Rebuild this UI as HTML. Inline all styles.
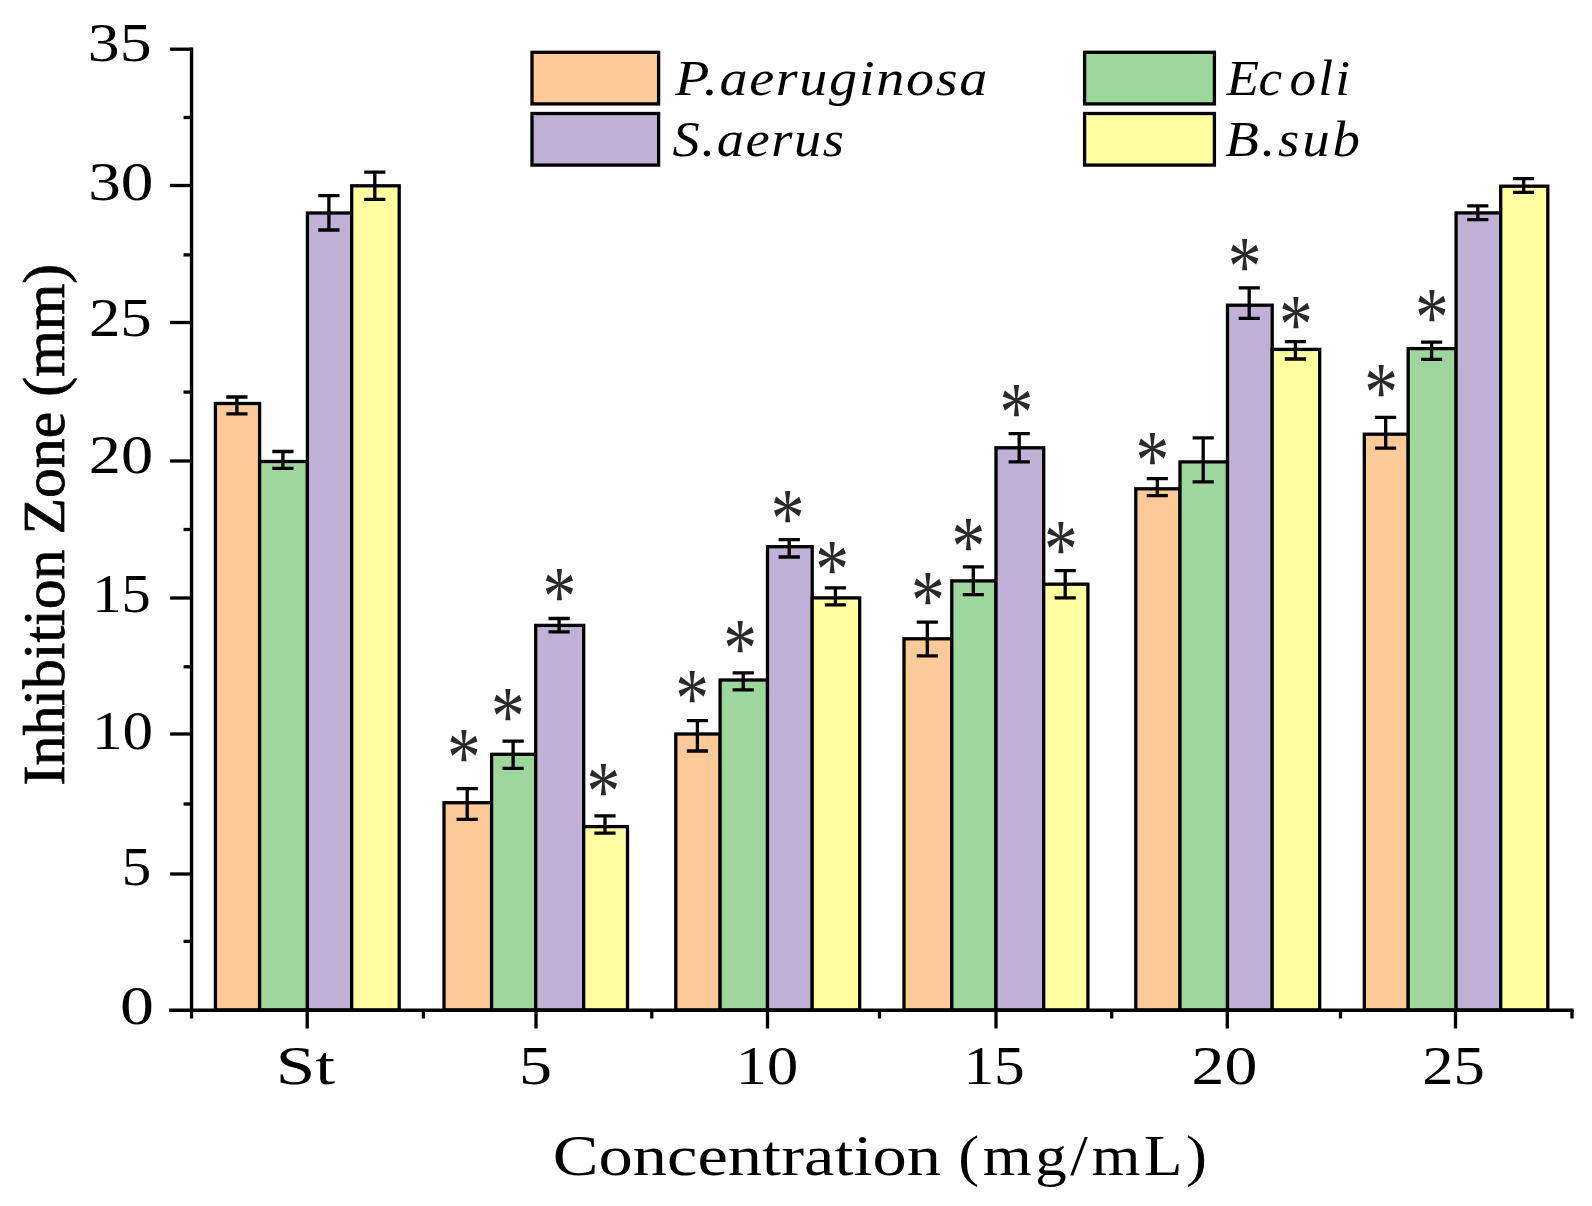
<!DOCTYPE html>
<html lang="en"><head><meta charset="utf-8"><title>Inhibition Zone vs Concentration</title>
<style>html,body{margin:0;padding:0;background:#fff}svg{display:block}text{font-family:"Liberation Serif",serif}</style>
</head><body>
<svg width="1592" height="1206" viewBox="0 0 1592 1206">
<rect width="1592" height="1206" fill="#fff"/>
<g stroke="#000" stroke-width="3.3" stroke-linejoin="miter">
<rect x="215.4" y="403.5" width="44.2" height="606.5" fill="#FCCA98"/>
<rect x="259.6" y="461.5" width="47.8" height="548.5" fill="#9ED79D"/>
<rect x="307.4" y="213.0" width="44.3" height="797.0" fill="#C2B1D7"/>
<rect x="351.7" y="185.8" width="47.5" height="824.2" fill="#FFFDA0"/>
<rect x="444.0" y="802.7" width="47.6" height="207.3" fill="#FCCA98"/>
<rect x="491.6" y="754.3" width="44.1" height="255.7" fill="#9ED79D"/>
<rect x="535.7" y="625.4" width="48.0" height="384.6" fill="#C2B1D7"/>
<rect x="583.7" y="826.6" width="43.8" height="183.4" fill="#FFFDA0"/>
<rect x="675.8" y="734.0" width="44.3" height="276.0" fill="#FCCA98"/>
<rect x="720.1" y="680.0" width="47.4" height="330.0" fill="#9ED79D"/>
<rect x="767.5" y="546.7" width="44.7" height="463.3" fill="#C2B1D7"/>
<rect x="812.2" y="597.9" width="47.5" height="412.1" fill="#FFFDA0"/>
<rect x="904.0" y="638.8" width="47.8" height="371.2" fill="#FCCA98"/>
<rect x="951.8" y="580.9" width="44.2" height="429.1" fill="#9ED79D"/>
<rect x="996.0" y="447.8" width="47.7" height="562.2" fill="#C2B1D7"/>
<rect x="1043.7" y="584.2" width="44.2" height="425.8" fill="#FFFDA0"/>
<rect x="1135.8" y="488.8" width="44.2" height="521.2" fill="#FCCA98"/>
<rect x="1180.0" y="461.9" width="47.5" height="548.1" fill="#9ED79D"/>
<rect x="1227.5" y="305.2" width="44.7" height="704.8" fill="#C2B1D7"/>
<rect x="1272.2" y="349.4" width="47.5" height="660.6" fill="#FFFDA0"/>
<rect x="1364.3" y="434.2" width="43.9" height="575.8" fill="#FCCA98"/>
<rect x="1408.2" y="348.6" width="47.9" height="661.4" fill="#9ED79D"/>
<rect x="1456.1" y="212.9" width="44.6" height="797.1" fill="#C2B1D7"/>
<rect x="1500.7" y="186.2" width="47.1" height="823.8" fill="#FFFDA0"/>
</g>
<g stroke="#000" stroke-width="3.3" fill="none">
<path d="M236.9 397.0V413.9M226.3 397.0H247.5M226.3 413.9H247.5"/>
<path d="M282.9 451.5V468.4M272.3 451.5H293.5M272.3 468.4H293.5"/>
<path d="M328.9 195.7V230.0M318.3 195.7H339.5M318.3 230.0H339.5"/>
<path d="M374.8 172.2V199.3M364.2 172.2H385.4M364.2 199.3H385.4"/>
<path d="M467.2 788.7V819.3M456.6 788.7H477.8M456.6 819.3H477.8"/>
<path d="M513.1 741.2V768.4M502.5 741.2H523.7M502.5 768.4H523.7"/>
<path d="M559.1 618.5V631.9M548.5 618.5H569.7M548.5 631.9H569.7"/>
<path d="M605.0 815.8V833.1M594.4 815.8H615.6M594.4 833.1H615.6"/>
<path d="M697.4 720.6V751.0M686.8 720.6H708.0M686.8 751.0H708.0"/>
<path d="M743.2 672.8V689.9M732.6 672.8H753.8M732.6 689.9H753.8"/>
<path d="M789.2 539.7V557.0M778.6 539.7H799.9M778.6 557.0H799.9"/>
<path d="M835.4 587.8V604.8M824.8 587.8H846.0M824.8 604.8H846.0"/>
<path d="M927.3 622.1V655.8M916.7 622.1H937.9M916.7 655.8H937.9"/>
<path d="M973.3 566.9V594.6M962.7 566.9H983.9M962.7 594.6H983.9"/>
<path d="M1019.2 433.7V461.8M1008.6 433.7H1029.8M1008.6 461.8H1029.8"/>
<path d="M1065.2 570.7V597.9M1054.6 570.7H1075.8M1054.6 597.9H1075.8"/>
<path d="M1157.3 478.7V495.7M1146.7 478.7H1167.9M1146.7 495.7H1167.9"/>
<path d="M1203.2 437.8V481.9M1192.6 437.8H1213.8M1192.6 481.9H1213.8"/>
<path d="M1249.2 287.9V318.4M1238.7 287.9H1259.8M1238.7 318.4H1259.8"/>
<path d="M1295.4 341.6V359.0M1284.8 341.6H1306.0M1284.8 359.0H1306.0"/>
<path d="M1385.7 417.4V448.2M1375.1 417.4H1396.2M1375.1 448.2H1396.2"/>
<path d="M1431.6 342.2V359.4M1421.0 342.2H1442.2M1421.0 359.4H1442.2"/>
<path d="M1477.8 205.8V219.6M1467.2 205.8H1488.4M1467.2 219.6H1488.4"/>
<path d="M1523.7 178.6V192.4M1513.1 178.6H1534.2M1513.1 192.4H1534.2"/>
</g>
<g stroke="#000" stroke-width="3.4" fill="none">
<path d="M191.55 47.5V1012.0"/>
<path d="M169.15 1010.3H1573.6"/>
</g>
<g stroke="#000" stroke-width="3.3" fill="none">
<path d="M170.05 49.2H191.55"/>
<path d="M170.05 185.5H191.55"/>
<path d="M170.05 322.5H191.55"/>
<path d="M170.05 461H191.55"/>
<path d="M170.05 598H191.55"/>
<path d="M170.05 734H191.55"/>
<path d="M170.05 874H191.55"/>
<path d="M183.55 117.5H191.55"/>
<path d="M183.55 254.9H191.55"/>
<path d="M183.55 392.1H191.55"/>
<path d="M183.55 529.5H191.55"/>
<path d="M183.55 666.8H191.55"/>
<path d="M183.55 804.0H191.55"/>
<path d="M183.55 941.4H191.55"/>
<path d="M307.2 1010.0V1028.5"/>
<path d="M536.0 1010.0V1028.5"/>
<path d="M767.5 1010.0V1028.5"/>
<path d="M996.0 1010.0V1028.5"/>
<path d="M1227.3 1010.0V1028.5"/>
<path d="M1455.5 1010.0V1028.5"/>
<path d="M191.55 1010.0V1018.5"/>
<path d="M423.4 1010.0V1018.5"/>
<path d="M651.8 1010.0V1018.5"/>
<path d="M879.5 1010.0V1018.5"/>
<path d="M1111.7 1010.0V1018.5"/>
<path d="M1340.5 1010.0V1018.5"/>
<path d="M1572 1010.0V1018.5"/>
</g>
<g stroke="#000" stroke-width="3.3">
<rect x="532" y="52.3" width="126.6" height="51.6" fill="#FCCA98"/>
<rect x="532" y="113.5" width="126.6" height="51.6" fill="#C2B1D7"/>
<rect x="1084.6" y="52.3" width="129.8" height="51.6" fill="#9ED79D"/>
<rect x="1084.6" y="113.5" width="129.8" height="51.6" fill="#FFFDA0"/>
</g>
<g font-family="'Liberation Serif', serif" fill="#000">
<text transform="translate(87.83 60.50) scale(1.1580 1)" font-size="55">35</text>
<text transform="translate(88.14 200.20) scale(1.1860 1)" font-size="55">30</text>
<text transform="translate(88.91 336.20) scale(1.1431 1)" font-size="55">25</text>
<text transform="translate(88.86 472.50) scale(1.1686 1)" font-size="55">20</text>
<text transform="translate(92.19 611.80) scale(1.0625 1)" font-size="55">15</text>
<text transform="translate(91.95 748.80) scale(1.1104 1)" font-size="55">10</text>
<text transform="translate(121.68 885.20) scale(1.0727 1)" font-size="55">5</text>
<text transform="translate(119.93 1023.80) scale(1.2348 1)" font-size="55">0</text>
<text transform="translate(275.83 1083.60) scale(1.2927 1)" font-size="55">St</text>
<text transform="translate(518.90 1083.60) scale(1.2000 1)" font-size="55">5</text>
<text transform="translate(735.82 1083.60) scale(1.1354 1)" font-size="55">10</text>
<text transform="translate(963.42 1083.60) scale(1.1167 1)" font-size="55">15</text>
<text transform="translate(1191.61 1083.60) scale(1.1961 1)" font-size="55">20</text>
<text transform="translate(1422.22 1083.60) scale(1.1392 1)" font-size="55">25</text>
<text transform="translate(552.85 1175.30) scale(1.2236 1)" font-size="56">Concentration</text>
<text transform="translate(958.13 1175.30) scale(1.1241 1)" font-size="56" letter-spacing="3.2">(mg/mL)</text>
<text transform="translate(675.00 95.20) scale(1.1232 1)" font-size="50" font-style="italic" letter-spacing="1.5">P.aeruginosa</text>
<text transform="translate(672.61 156.00) scale(1.0877 1)" font-size="50" font-style="italic" letter-spacing="1.5">S.aerus</text>
<text transform="translate(1226.40 95.20) scale(1.0661 1)" font-size="50" font-style="italic" letter-spacing="2">E<tspan dx="-2.5">c</tspan><tspan dx="5">o</tspan>li</text>
<text transform="translate(1225.30 156.00) scale(1.0992 1)" font-size="50" font-style="italic" letter-spacing="2.5">B.sub</text>
<text transform="translate(64.2 785.44) rotate(-90) scale(1.0680 1.0700)" font-size="56" stroke="#000" stroke-width="0.7">Inhibition Zone (mm)</text>
<text transform="translate(447.02 785.66) scale(0.8438 1.0690)" font-size="80" fill="#2a2a2a">*</text>
<text transform="translate(491.12 744.76) scale(0.8438 1.0690)" font-size="80" fill="#2a2a2a">*</text>
<text transform="translate(542.52 625.36) scale(0.8438 1.0690)" font-size="80" fill="#2a2a2a">*</text>
<text transform="translate(586.42 819.96) scale(0.8438 1.0690)" font-size="80" fill="#2a2a2a">*</text>
<text transform="translate(675.23 727.46) scale(0.8438 1.0690)" font-size="80" fill="#2a2a2a">*</text>
<text transform="translate(723.23 676.66) scale(0.8438 1.0690)" font-size="80" fill="#2a2a2a">*</text>
<text transform="translate(770.73 546.86) scale(0.8438 1.0690)" font-size="80" fill="#2a2a2a">*</text>
<text transform="translate(815.23 598.16) scale(0.8438 1.0690)" font-size="80" fill="#2a2a2a">*</text>
<text transform="translate(910.92 628.66) scale(0.8438 1.0690)" font-size="80" fill="#2a2a2a">*</text>
<text transform="translate(951.52 574.86) scale(0.8438 1.0690)" font-size="80" fill="#2a2a2a">*</text>
<text transform="translate(999.52 441.46) scale(0.8438 1.0690)" font-size="80" fill="#2a2a2a">*</text>
<text transform="translate(1044.03 577.86) scale(0.8438 1.0690)" font-size="80" fill="#2a2a2a">*</text>
<text transform="translate(1135.53 489.06) scale(0.8438 1.0690)" font-size="80" fill="#2a2a2a">*</text>
<text transform="translate(1227.72 295.06) scale(0.8438 1.0690)" font-size="80" fill="#2a2a2a">*</text>
<text transform="translate(1279.12 352.66) scale(0.8438 1.0690)" font-size="80" fill="#2a2a2a">*</text>
<text transform="translate(1364.22 420.96) scale(0.8438 1.0690)" font-size="80" fill="#2a2a2a">*</text>
<text transform="translate(1414.92 346.06) scale(0.8438 1.0690)" font-size="80" fill="#2a2a2a">*</text>
</g>
</svg>
</body></html>
